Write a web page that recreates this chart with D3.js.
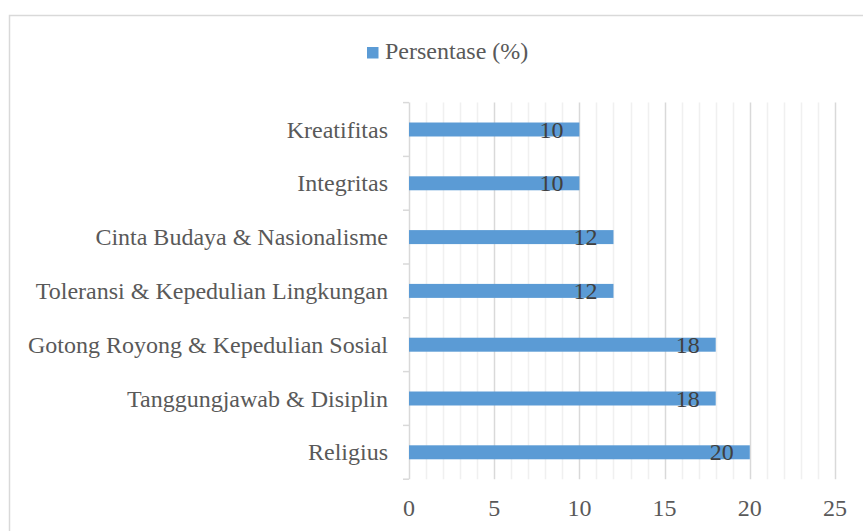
<!DOCTYPE html>
<html lang="en">
<head>
  <meta charset="UTF-8">
  <title>Persentase (%)</title>
  <style>
    body { margin: 0; background: #fff; }
    svg { font-family: "Liberation Serif", "Times New Roman", serif; }
    .lbl { fill: #595959; font-size: 24px; }
    .val { fill: #404040; font-size: 24px; }
  </style>
  <script src="https://d3js.org/d3.v7.min.js"></script>
</head>
<body>
<svg width="863" height="531"></svg>
<script>
  // categories from top to bottom, as in the picture
  const categories = [
    'Kreatifitas',
    'Integritas',
    'Cinta Budaya & Nasionalisme',
    'Toleransi & Kepedulian Lingkungan',
    'Gotong Royong & Kepedulian Sosial',
    'Tanggungjawab & Disiplin',
    'Religius'
  ];
  const values = [10, 10, 12, 12, 18, 18, 20];
  const xTicks = [0, 5, 10, 15, 20, 25];
  const seriesName = 'Persentase (%)';

  const svg = d3.select("svg");
  const plotLeft = 409, plotRight = 835, plotTop = 102.6, plotBottom = 479.2;

  // chart area border
  svg.append("rect")
    .attr("x", 9.5).attr("y", 15.5)
    .attr("width", 900).attr("height", 600)
    .attr("fill", "none").attr("stroke", "#d9d9d9").attr("stroke-width", 1.5);

  const x = d3.scaleLinear().domain([0, 25]).range([plotLeft, plotRight]);
  const y = d3.scaleBand().domain(categories).range([plotTop, plotBottom]).paddingInner(0.74).paddingOuter(0.37);

  // minor gridlines
  svg.append("g").selectAll("line")
    .data(d3.range(1, 26).filter(v => v % 5 !== 0))
    .join("line")
    .attr("x1", d => Math.round(x(d)) + 0.5).attr("x2", d => Math.round(x(d)) + 0.5)
    .attr("y1", plotTop).attr("y2", plotBottom)
    .attr("stroke", "#f0f0f0").attr("stroke-width", 1.5);

  // major gridlines
  svg.append("g").selectAll("line")
    .data(xTicks)
    .join("line")
    .attr("x1", d => Math.round(x(d)) + 0.5).attr("x2", d => Math.round(x(d)) + 0.5)
    .attr("y1", plotTop).attr("y2", plotBottom)
    .attr("stroke", "#d9d9d9").attr("stroke-width", 1.5);

  // category axis tick marks at band edges
  const step = y.step();
  svg.append("g").selectAll("line")
    .data(d3.range(categories.length + 1))
    .join("line")
    .attr("x1", plotLeft - 6).attr("x2", plotLeft)
    .attr("y1", d => plotTop + d * step).attr("y2", d => plotTop + d * step)
    .attr("stroke", "#d9d9d9").attr("stroke-width", 1.5);

  // bars
  svg.append("g").selectAll("rect")
    .data(categories)
    .join("rect")
    .attr("x", x(0))
    .attr("y", d => y(d))
    .attr("width", (d, i) => x(values[i]) - x(0))
    .attr("height", y.bandwidth())
    .attr("fill", "#5b9bd5");

  // value labels, inside end
  svg.append("g").selectAll("text")
    .data(categories)
    .join("text")
    .attr("class", "val")
    .attr("x", (d, i) => x(values[i]) - 16)
    .attr("y", d => y(d) + y.bandwidth() / 2 + 8)
    .attr("text-anchor", "end")
    .text((d, i) => values[i]);

  // category labels
  svg.append("g").selectAll("text")
    .data(categories)
    .join("text")
    .attr("class", "lbl")
    .attr("x", 388)
    .attr("y", d => y(d) + y.bandwidth() / 2 + 8)
    .attr("text-anchor", "end")
    .text(d => d);

  // x tick labels
  svg.append("g").selectAll("text")
    .data(xTicks)
    .join("text")
    .attr("class", "lbl")
    .attr("x", d => x(d))
    .attr("y", 516)
    .attr("text-anchor", "middle")
    .text(d => d);

  // legend
  svg.append("rect")
    .attr("x", 367).attr("y", 47).attr("width", 11.5).attr("height", 11.5)
    .attr("fill", "#5b9bd5");
  svg.append("text")
    .attr("class", "lbl")
    .attr("x", 385).attr("y", 59)
    .text(seriesName);
</script>
</body>
</html>
